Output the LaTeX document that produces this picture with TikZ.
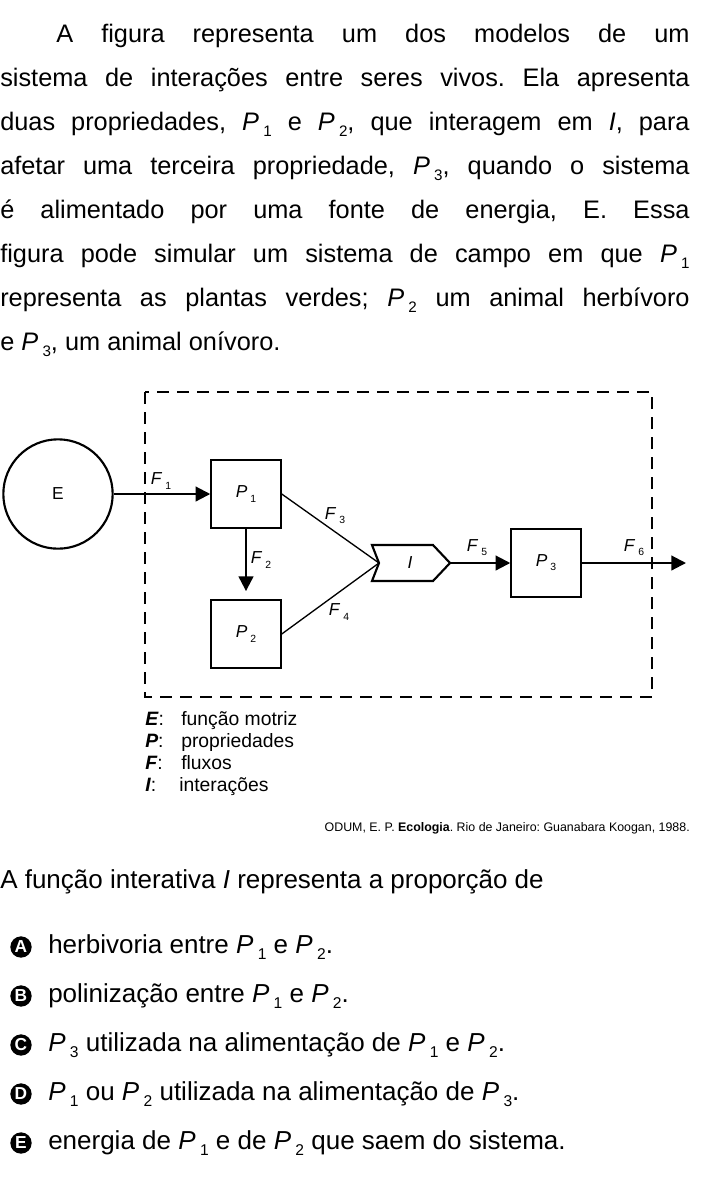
\documentclass[tikz,border=0pt]{standalone}
\usepackage{fontspec}
\setmainfont{Liberation Sans}
\usetikzlibrary{arrows.meta}
\newcommand\Pp[2]{\textit{#1}\,\raisebox{-0.45ex}{\scalebox{0.6}{#2}}}
\frenchspacing
\begin{document}
\begin{tikzpicture}[x=0.75pt,y=-0.75pt,
  box/.style={draw,line width=1.6pt,minimum width=52pt,minimum height=51pt,inner sep=0pt,font=\fontsize{13}{15}\selectfont},
  flow/.style={line width=1.6pt,-{Triangle[length=11pt,width=11pt]}},
  lab/.style={font=\fontsize{13}{15}\selectfont,inner sep=1pt},
  opt/.style={anchor=west,font=\fontsize{19.5}{22}\selectfont,inner sep=0pt},
  bul/.style={circle,fill=black,text=white,inner sep=0pt,minimum size=16pt,font=\fontsize{13}{13}\selectfont\bfseries}]
\useasboundingbox (0,0) rectangle (700,1189);
% paragraph
\node[anchor=north west,inner sep=0pt,text width=517pt,align=justify,font=\fontsize{19}{33}\selectfont] (txt) at (0,24)
{\hspace*{42pt}A figura representa um dos modelos de um\linebreak
sistema de interações entre seres vivos. Ela apresenta\linebreak
duas propriedades, \Pp{P}{1} e \Pp{P}{2}, que interagem em \textit{I}, para\linebreak
afetar uma terceira propriedade, \Pp{P}{3}, quando o sistema\linebreak
é alimentado por uma fonte de energia, E. Essa\linebreak
figura pode simular um sistema de campo em que \Pp{P}{1}\linebreak
representa as plantas verdes; \Pp{P}{2} um animal herbívoro\linebreak
e \Pp{P}{3}, um animal onívoro.\par};
% dashed box
\draw[line width=1.6pt,dash pattern=on 9pt off 6pt] (145,392) rectangle (652,697);
% nodes
\node[circle,draw,line width=1.6pt,minimum size=82pt,font=\fontsize{13}{15}\selectfont] (E) at (58,494) {E};
\node[box] (P1) at (246,494) {\Pp{P}{1}};
\node[box] (P2) at (246,634) {\Pp{P}{2}};
\node[box] (P3) at (546,563) {\Pp{P}{3}};
\coordinate (Inotch) at (379,563);
\draw[line width=1.6pt] (372,545) -- (433,545) -- (450,563) -- (433,581) -- (372,581) -- (Inotch) -- cycle;
\node[lab] (I) at (410,563) {\textit{I}};
\coordinate (Itip) at (450,563);
\coordinate (out) at (686,563);
% connectors
\draw[flow] (E) -- (P1);
\draw[flow] (P1.south) -- ++(0,62);
\draw[line width=1pt] (P1.east) -- (Inotch);
\draw[line width=1pt] (P2.east) -- (Inotch);
\draw[flow] (Itip) -- (P3);
\draw[flow] (P3) -- (out);
% labels
\node[lab] at (161,481) {\Pp{F}{1}};
\node[lab] at (261,560) {\Pp{F}{2}};
\node[lab] at (335,516) {\Pp{F}{3}};
\node[lab] at (339,612) {\Pp{F}{4}};
\node[lab] at (477,548) {\Pp{F}{5}};
\node[lab] at (634,548) {\Pp{F}{6}};
% legend
\begin{scope}[every node/.style={anchor=base west,inner sep=0pt,font=\fontsize{14.5}{16}\selectfont}]
\node (l1) at (145,725) {\textbf{\textit{E}}:};
\node (t1) at (181,725) {função motriz};
\node (l2) at (145,747) {\textbf{\textit{P}}:};
\node (t2) at (181,747) {propriedades};
\node (l3) at (145,769) {\textbf{\textit{F}}:};
\node (t3) at (181,769) {fluxos};
\node (l4) at (145,791) {\textbf{\textit{I}}:};
\node (t4) at (179,791) {interações};
\end{scope}
\node[anchor=east,inner sep=0pt,font=\fontsize{9.3}{11}\selectfont] (cit) at (690,828) {ODUM, E. P. \textbf{Ecologia}. Rio de Janeiro: Guanabara Koogan, 1988.};
\node[anchor=west,inner sep=0pt,font=\fontsize{19.5}{22}\selectfont] (q) at (0,882) {A função interativa \textit{I} representa a proporção de};
% options
\node[bul] (bA) at (21,947) {A}; \node[opt] (oA) at (48,947) {herbivoria entre \Pp{P}{1} e \Pp{P}{2}.};
\node[bul] (bB) at (21,996) {B}; \node[opt] (oB) at (48,996) {polinização entre \Pp{P}{1} e \Pp{P}{2}.};
\node[bul] (bC) at (21,1045) {C}; \node[opt] (oC) at (48,1045) {\Pp{P}{3} utilizada na alimentação de \Pp{P}{1} e \Pp{P}{2}.};
\node[bul] (bD) at (21,1094) {D}; \node[opt] (oD) at (48,1094) {\Pp{P}{1} ou \Pp{P}{2} utilizada na alimentação de \Pp{P}{3}.};
\node[bul] (bE) at (21,1143) {E}; \node[opt] (oE) at (48,1143) {energia de \Pp{P}{1} e de \Pp{P}{2} que saem do sistema.};
\end{tikzpicture}
\end{document}
